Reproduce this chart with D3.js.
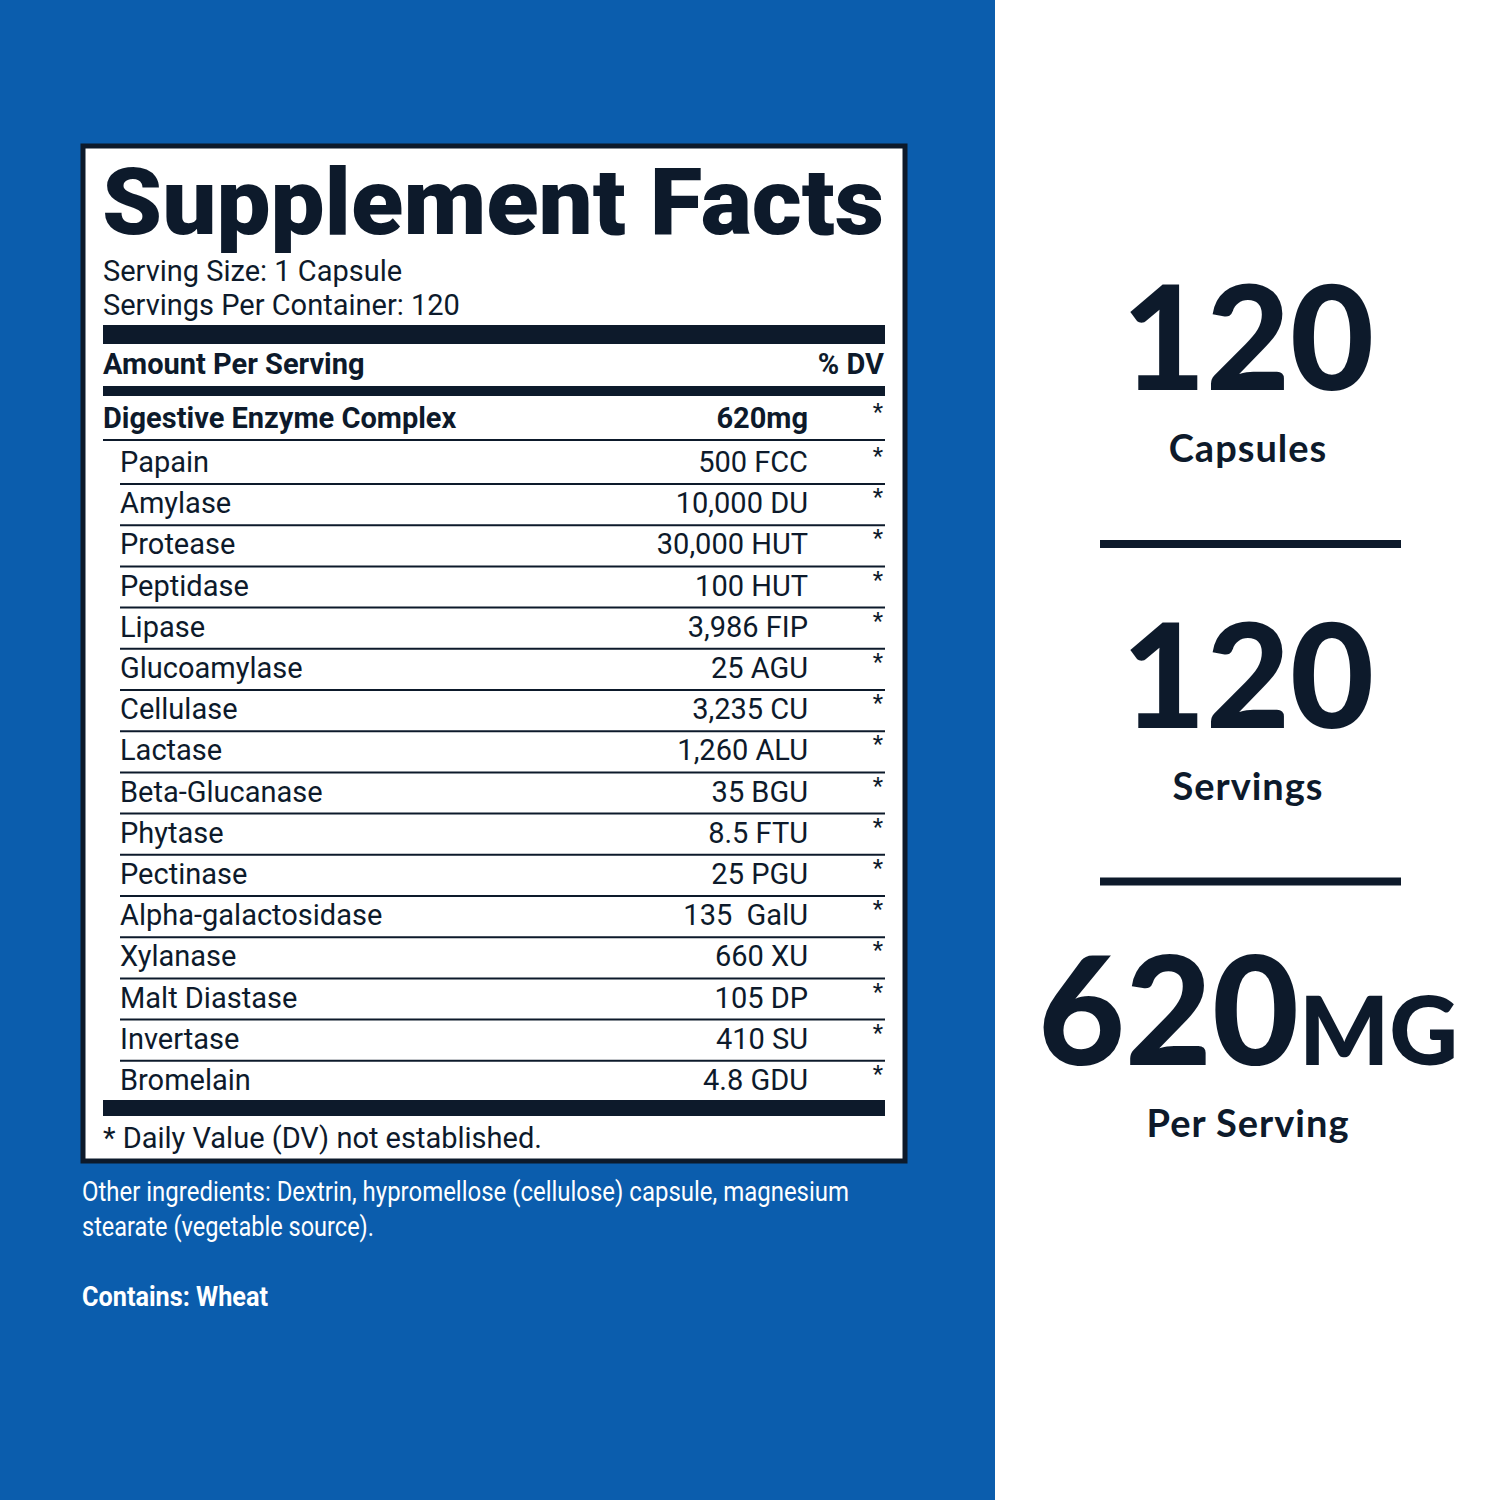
<!DOCTYPE html>
<html><head><meta charset="utf-8">
<script src="https://cdn.jsdelivr.net/npm/d3@7"></script>
<style>body{margin:0}svg{display:block}</style>
</head><body>
<svg id="canvas" width="1500" height="1500"></svg>
<script>
let names = ["Papain","Amylase","Protease","Peptidase","Lipase","Glucoamylase","Cellulase","Lactase","Beta-Glucanase","Phytase","Pectinase","Alpha-galactosidase","Xylanase","Malt Diastase","Invertase","Bromelain"]
let amounts = ["500 FCC","10,000 DU","30,000 HUT","100 HUT","3,986 FIP","25 AGU","3,235 CU","1,260 ALU","35 BGU","8.5 FTU","25 PGU","135  GalU","660 XU","105 DP","410 SU","4.8 GDU"]
let stats = [["120","Capsules",""],["120","Servings",""],["620","Per Serving","MG"]]

let svg = d3.select("#canvas")
let navy = "#0d1a2b"
let font = "Roboto, 'Liberation Sans', sans-serif"
let font2 = "Lato, 'Open Sans', sans-serif"

svg.append("rect").attr("width",1500).attr("height",1500).attr("fill","#fff")
svg.append("rect").attr("width",995).attr("height",1500).attr("fill","#0b5dad")
svg.append("rect").attr("x",83).attr("y",146).attr("width",822).attr("height",1015)
   .attr("fill","#fff").attr("stroke",navy).attr("stroke-width",5)

let label = svg.append("g").attr("font-family",font).attr("fill",navy)
label.append("text").attr("x",102).attr("y",234).attr("font-size",92).attr("font-weight",900)
   .attr("textLength",782).attr("lengthAdjust","spacingAndGlyphs").text("Supplement Facts")
label.append("text").attr("x",103).attr("y",281).attr("font-size",29).text("Serving Size: 1 Capsule")
label.append("text").attr("x",103).attr("y",315).attr("font-size",29).text("Servings Per Container: 120")
label.append("rect").attr("x",103).attr("y",325).attr("width",782).attr("height",19)
label.append("text").attr("x",103).attr("y",374).attr("font-size",29).attr("font-weight",700).text("Amount Per Serving")
label.append("text").attr("x",884).attr("y",374).attr("font-size",29).attr("font-weight",700).attr("text-anchor","end").text("% DV")
label.append("rect").attr("x",103).attr("y",386).attr("width",782).attr("height",10)
label.append("text").attr("x",103).attr("y",428).attr("font-size",29).attr("font-weight",700).text("Digestive Enzyme Complex")
label.append("text").attr("x",808).attr("y",428).attr("font-size",29).attr("font-weight",700).attr("text-anchor","end").text("620mg")
label.append("text").attr("x",878).attr("y",420).attr("font-size",24).attr("text-anchor","middle").text("*")
label.append("line").attr("x1",103).attr("x2",885).attr("y1",440).attr("y2",440).attr("stroke",navy).attr("stroke-width",2)

let y = d3.scaleLinear().domain([0,names.length-1]).range([472,1090])
let rows = label.selectAll("g.row").data(names).enter().append("g").attr("class","row")
rows.append("text").attr("x",120).attr("y",(d,i)=>y(i)).attr("font-size",29).text(d=>d)
rows.append("text").attr("x",808).attr("y",(d,i)=>y(i)).attr("font-size",29).attr("text-anchor","end")
    .attr("xml:space","preserve").text((d,i)=>amounts[i])
rows.append("text").attr("x",878).attr("y",(d,i)=>y(i)-8).attr("font-size",24).attr("text-anchor","middle").text("*")
rows.filter((d,i)=>i<names.length-1).append("line").attr("x1",120).attr("x2",885)
    .attr("y1",(d,i)=>y(i)+12).attr("y2",(d,i)=>y(i)+12).attr("stroke",navy).attr("stroke-width",2)
label.append("rect").attr("x",103).attr("y",1100).attr("width",782).attr("height",16)
label.append("text").attr("x",103).attr("y",1148).attr("font-size",29).text("* Daily Value (DV) not established.")

let other = svg.append("g").attr("font-family",font).attr("fill","#fff").attr("font-size",28)
other.append("text").attr("x",82).attr("y",1201).attr("textLength",767).attr("lengthAdjust","spacingAndGlyphs")
   .text("Other ingredients: Dextrin, hypromellose (cellulose) capsule, magnesium")
other.append("text").attr("x",82).attr("y",1236).attr("textLength",292).attr("lengthAdjust","spacingAndGlyphs").text("stearate (vegetable source).")
other.append("text").attr("x",82).attr("y",1306).attr("font-weight",700).attr("textLength",186).attr("lengthAdjust","spacingAndGlyphs").text("Contains: Wheat")

let sy = d3.scalePoint().domain(d3.range(stats.length)).range([390,1065])
let sg = svg.selectAll("g.stat").data(stats).enter().append("g").attr("class","stat")
   .attr("font-family",font2).attr("fill",navy)
let big = sg.append("text").attr("x",d=>d[2]?1248:1248).attr("y",(d,i)=>sy(i)).attr("text-anchor","middle")
   .attr("font-size",d=>d[2]?150:145).attr("font-weight",900)
big.append("tspan").text(d=>d[0])
big.append("tspan").attr("font-size",95).text(d=>d[2])
sg.append("text").attr("x",1248).attr("y",(d,i)=>sy(i)+72).attr("text-anchor","middle")
   .attr("font-size",38).attr("font-weight",700).attr("letter-spacing",1).text(d=>d[1])
sg.filter((d,i)=>i<stats.length-1).append("rect").attr("x",1100).attr("width",301).attr("height",8)
   .attr("y",(d,i)=>sy(i)+150)
</script>
</body></html>
